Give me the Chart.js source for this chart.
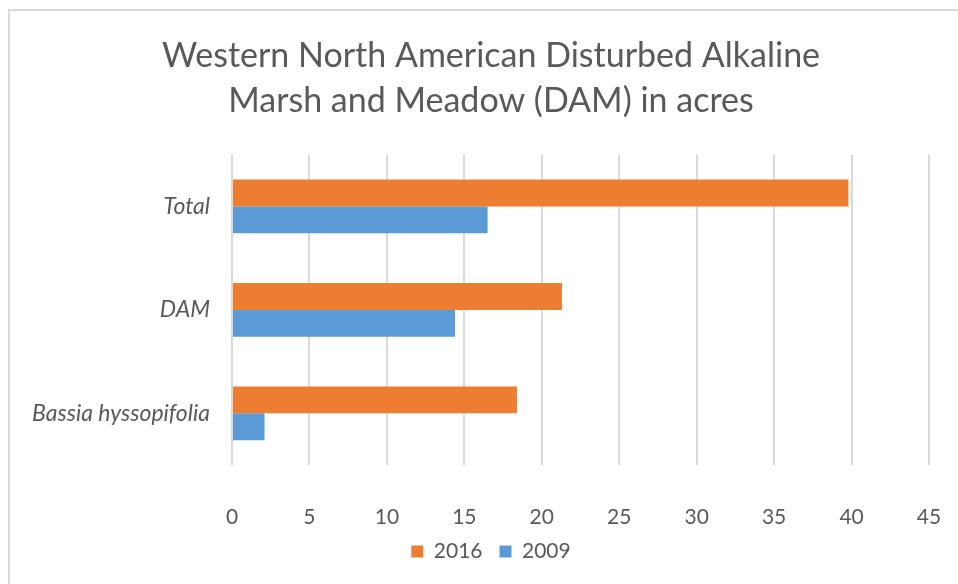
<!DOCTYPE html>
<html>
<head>
<meta charset="utf-8">
<script src="https://cdn.jsdelivr.net/npm/chart.js@4.4.1/dist/chart.umd.min.js"></script>
<style>
    html, body { margin: 0; padding: 0; background: #ffffff; overflow: hidden; }
    #wrap { position: relative; width: 958px; height: 584px; }
    #frame {
        position: absolute; left: 8px; top: 9px; right: -10px; bottom: -10px;
        border-left: 2px solid #d9d9d9; border-top: 2px solid #d9d9d9;
        pointer-events: none;
    }
</style>
</head>
<body>
<div id="wrap">
    <canvas id="damChart" width="958" height="584"></canvas>
    <div id="frame"></div>
</div>
<script>
// Chart data
const categories = ['Total', 'DAM', 'Bassia hyssopifolia'];
const acres2016 = [39.8, 21.3, 18.4];
const acres2009 = [16.5, 14.4, 2.1];
const titleLines = ['Western North American Disturbed Alkaline', 'Marsh and Meadow (DAM) in acres'];

const textColor = '#595959';
const gridColor = '#d9d9d9';
const fontFamily = 'Lato, "Open Sans", sans-serif';

const ctx = document.getElementById('damChart').getContext('2d');

new Chart(ctx, {
    type: 'bar',
    data: {
        labels: categories,
        datasets: [
            {
                label: '2016',
                data: acres2016,
                backgroundColor: '#ed7d31',
                categoryPercentage: 0.52,
                barPercentage: 1.0
            },
            {
                label: '2009',
                data: acres2009,
                backgroundColor: '#5b9bd5',
                categoryPercentage: 0.52,
                barPercentage: 1.0
            }
        ]
    },
    options: {
        indexAxis: 'y',
        responsive: false,
        animation: false,
        devicePixelRatio: 1,
        layout: {
            padding: { left: 24, right: 0, top: 0, bottom: 12 }
        },
        plugins: {
            title: {
                display: true,
                text: titleLines,
                color: textColor,
                font: { family: fontFamily, size: 34, weight: 'normal', lineHeight: 1.32 },
                padding: { top: 34, bottom: 31 }
            },
            legend: {
                position: 'bottom',
                labels: {
                    color: textColor,
                    font: { family: fontFamily, size: 21 },
                    boxWidth: 12,
                    boxHeight: 12,
                    padding: 17
                }
            },
            tooltip: { enabled: false }
        },
        scales: {
            x: {
                min: 0,
                max: 45,
                ticks: {
                    stepSize: 5,
                    color: textColor,
                    font: { family: fontFamily, size: 21 },
                    padding: 40
                },
                grid: {
                    color: gridColor,
                    lineWidth: 2,
                    drawTicks: false
                },
                border: { display: false },
                afterFit: (scale) => {
                    scale.height = 59;
                    scale.paddingLeft = 0;
                    scale.paddingRight = 0;
                }
            },
            y: {
                ticks: {
                    color: textColor,
                    font: { family: fontFamily, size: 23, style: 'italic' },
                    padding: 22
                },
                grid: { display: false, drawTicks: false },
                border: { display: false },
                afterFit: (scale) => {
                    scale.width = 208;
                }
            },
            // empty right-hand spacer so the plot ends where the reference does
            spacer: {
                type: 'linear',
                axis: 'y',
                position: 'right',
                ticks: { display: false },
                grid: { display: false, drawTicks: false },
                border: { display: false },
                afterFit: (scale) => {
                    scale.width = 29;
                }
            }
        }
    }
});
</script>
</body>
</html>
